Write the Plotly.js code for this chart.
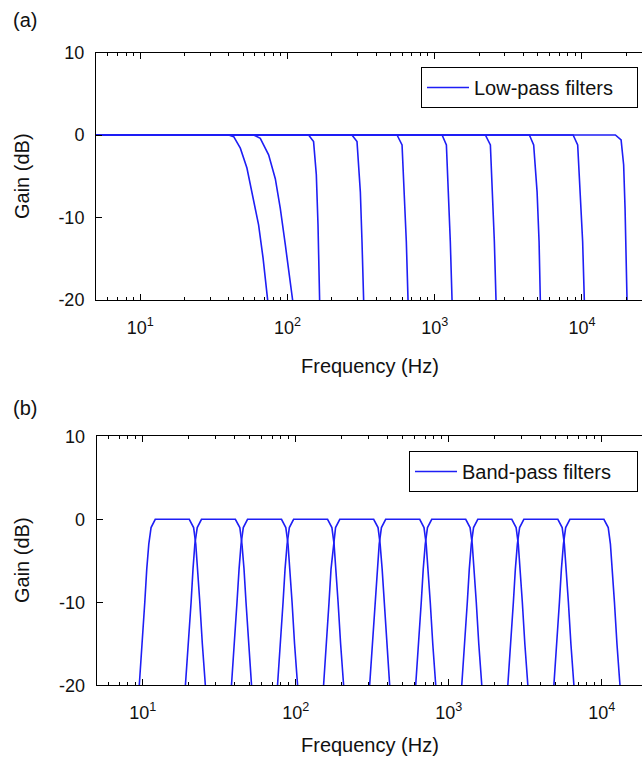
<!DOCTYPE html>
<html><head><meta charset="utf-8">
<script src="https://cdn.plot.ly/plotly-3.0.1.min.js"></script>
<style>html,body{margin:0;padding:0;background:#fff;} #chart{width:642px;height:766px;}</style>
</head><body><div id="chart"></div>
<script>
// ---------- (a) Low-pass filters: frequency (Hz) / gain (dB) ----------
const lp1Freq = [5, 39.8, 43.1, 47.8, 53.0, 57.4, 63.6, 68.2, 73.3];
const lp1Gain = [0, 0, -0.2, -1.6, -4.0, -6.9, -10.9, -14.9, -20];
const lp2Freq = [5, 58.9, 65.3, 74.4, 82.6, 89.3, 96.6, 103.3, 108.3];
const lp2Gain = [0, 0, -0.4, -2.4, -5.3, -8.9, -13.3, -16.9, -20];
const lp3Freq = [5, 139, 150.3, 156.9, 161.1, 165.2];
const lp3Gain = [0, 0, -0.8, -4.8, -10.9, -20];
const lp4Freq = [5, 274, 296.5, 312.4, 320.7, 328.9];
const lp4Gain = [0, 0, -0.8, -6.9, -13.0, -20];
const lp5Freq = [5, 554.6, 599.8, 621.3, 641.2, 658.6];
const lp5Gain = [0, 0, -1.2, -6.9, -12.9, -20];
const lp6Freq = [5, 1122, 1200, 1243, 1276, 1311];
const lp6Gain = [0, 0, -1.2, -6.9, -12.9, -20];
const lp7Freq = [5, 2208, 2388, 2474, 2541, 2608];
const lp7Gain = [0, 0, -1.2, -6.9, -12.9, -20];
const lp8Freq = [5, 4395, 4700, 4958, 5114, 5215];
const lp8Gain = [0, 0, -1.2, -6.9, -12.9, -20];
const lp9Freq = [5, 8710, 9355, 9755, 10110, 10380];
const lp9Gain = [0, 0, -1.2, -6.9, -12.9, -20];
const lp10Freq = [5, 16870, 18450, 19200, 19630, 20040, 20240];
const lp10Gain = [0, 0, -0.6, -3.6, -8.9, -14.9, -20];

// ---------- (b) Band-pass filters (octave bands) ----------
const bpGain = [-20, -15, -10, -6, -3, -1, 0, 0, -1, -3, -6, -10, -15, -20];
const bp1Freq  = [9.49, 9.94, 10.31, 10.62, 10.95, 11.33, 12.07, 20.14, 21.50, 22.21, 22.90, 23.60, 24.51, 25.65];
const bp2Freq  = [19.0, 19.9, 20.7, 21.3, 21.9, 22.7, 24.2, 40.3, 43.1, 44.5, 45.9, 47.3, 49.1, 51.4];
const bp3Freq  = [38.0, 39.8, 41.3, 42.6, 43.9, 45.4, 48.4, 80.7, 86.1, 89.0, 91.8, 94.6, 98.2, 102.8];
const bp4Freq  = [76.0, 79.6, 82.6, 85.1, 87.8, 90.8, 96.8, 161.4, 172.3, 178.0, 183.5, 189.1, 196.4, 205.5];
const bp5Freq  = [152, 159, 165, 170, 176, 182, 194, 323, 345, 356, 367, 378, 393, 411];
const bp6Freq  = [304, 318, 330, 341, 351, 363, 387, 646, 689, 712, 734, 757, 786, 822];
const bp7Freq  = [608, 637, 661, 681, 702, 726, 774, 1291, 1378, 1424, 1468, 1513, 1571, 1644];
const bp8Freq  = [1216, 1274, 1322, 1362, 1404, 1452, 1548, 2582, 2756, 2848, 2936, 3026, 3142, 3288];
const bp9Freq  = [2432, 2548, 2644, 2724, 2808, 2904, 3096, 5164, 5512, 5696, 5872, 6052, 6284, 6576];
const bp10Freq = [4864, 5096, 5288, 5448, 5616, 5808, 6192, 10328, 11024, 11392, 11744, 12104, 12568, 13152];

// ---------- ticks ----------
const xTickVals = [10, 100, 1000, 10000];
const xTickText = ['10<sup>1</sup>', '10<sup>2</sup>', '10<sup>3</sup>', '10<sup>4</sup>'];
const xMinorVals = [6, 7, 8, 9, 20, 30, 40, 50, 60, 70, 80, 90, 200, 300, 400, 500, 600, 700, 800, 900,
                    2000, 3000, 4000, 5000, 6000, 7000, 8000, 9000, 20000];
const yTickVals = [-20, -10, 0, 10];
const yTickText = ['-20', '-10', '0', '10'];

const lpSets = [[lp1Freq, lp1Gain], [lp2Freq, lp2Gain], [lp3Freq, lp3Gain], [lp4Freq, lp4Gain], [lp5Freq, lp5Gain],
                [lp6Freq, lp6Gain], [lp7Freq, lp7Gain], [lp8Freq, lp8Gain], [lp9Freq, lp9Gain], [lp10Freq, lp10Gain]];
const bpSets = [bp1Freq, bp2Freq, bp3Freq, bp4Freq, bp5Freq, bp6Freq, bp7Freq, bp8Freq, bp9Freq, bp10Freq];

const lineStyle = {color: 'rgb(30,30,245)', width: 1.6};
const traces = [];
lpSets.forEach((s, i) => traces.push({
  type: 'scatter', mode: 'lines', x: s[0], y: s[1], xaxis: 'x', yaxis: 'y',
  line: lineStyle, name: 'Low-pass filters', showlegend: i === 0, legend: 'legend', hoverinfo: 'skip'
}));
bpSets.forEach((f, i) => traces.push({
  type: 'scatter', mode: 'lines', x: f, y: bpGain, xaxis: 'x2', yaxis: 'y2',
  line: lineStyle, name: 'Band-pass filters', showlegend: i === 0, legend: 'legend2', hoverinfo: 'skip'
}));

const W = 642, H = 766;
const FONT = 'Liberation Sans, Arial, sans-serif';
const tickFont = {family: FONT, size: 18, color: '#111'};

function xAxis(range, left, anchor) {
  return {
    type: 'log', range: range, domain: [left / W, 1], anchor: anchor,
    tickmode: 'array', tickvals: xTickVals, ticktext: xTickText,
    ticks: 'inside', ticklen: 6, tickwidth: 1, tickcolor: '#000',
    minor: {tickmode: 'array', tickvals: xMinorVals, ticks: 'inside', ticklen: 3, tickcolor: '#000', showgrid: false},
    showline: true, linecolor: '#000', linewidth: 1, mirror: 'allticks',
    showgrid: false, zeroline: false, tickfont: tickFont, ticklabelstandoff: 11, fixedrange: true
  };
}
function yAxis(top, bottom, anchor) {
  return {
    range: [-20, 10], domain: [1 - bottom / H, 1 - top / H], anchor: anchor,
    tickmode: 'array', tickvals: yTickVals, ticktext: yTickText,
    ticks: 'inside', ticklen: 6, tickwidth: 1, tickcolor: '#000',
    showline: true, linecolor: '#000', linewidth: 1, mirror: false,
    showgrid: false, zeroline: false, tickfont: tickFont, ticklabelstandoff: 7, fixedrange: true
  };
}

const textFont = {family: FONT, size: 20, color: '#111'};
const legendFont = {family: FONT, size: 20, color: '#111'};
const layout = {
  width: W, height: H, margin: {l: 0, r: 0, t: 0, b: 0},
  paper_bgcolor: '#fff', plot_bgcolor: '#fff',
  xaxis: xAxis([Math.log10(5), 4.408], 96, 'y'),
  yaxis: yAxis(52.5, 300, 'x'),
  xaxis2: xAxis([Math.log10(5), 4.263], 96.7, 'y2'),
  yaxis2: yAxis(436.3, 685.3, 'x2'),
  legend: {x: 421 / W, y: 1 - 67 / H, xanchor: 'left', yanchor: 'top', bgcolor: '#fff',
           orientation: 'h', entrywidth: 158, entrywidthmode: 'pixels', itemwidth: 42,
           bordercolor: '#000', borderwidth: 1, font: legendFont},
  legend2: {x: 409 / W, y: 1 - 451 / H, xanchor: 'left', yanchor: 'top', bgcolor: '#fff',
            orientation: 'h', entrywidth: 170, entrywidthmode: 'pixels', itemwidth: 42,
            bordercolor: '#000', borderwidth: 1, font: legendFont},
  annotations: [
    {text: '(a)', xref: 'paper', yref: 'paper', x: 11 / W, y: 1 - 20 / H, xanchor: 'left', yanchor: 'middle', showarrow: false, font: textFont},
    {text: '(b)', xref: 'paper', yref: 'paper', x: 11 / W, y: 1 - 408 / H, xanchor: 'left', yanchor: 'middle', showarrow: false, font: textFont},
    {text: 'Gain (dB)', xref: 'paper', yref: 'paper', x: 22 / W, y: 1 - 176 / H, textangle: -90, xanchor: 'center', yanchor: 'middle', showarrow: false, font: textFont},
    {text: 'Gain (dB)', xref: 'paper', yref: 'paper', x: 22 / W, y: 1 - 560 / H, textangle: -90, xanchor: 'center', yanchor: 'middle', showarrow: false, font: textFont},
    {text: 'Frequency (Hz)', xref: 'paper', yref: 'paper', x: 370 / W, y: 1 - 366 / H, xanchor: 'center', yanchor: 'middle', showarrow: false, font: textFont},
    {text: 'Frequency (Hz)', xref: 'paper', yref: 'paper', x: 370 / W, y: 1 - 745 / H, xanchor: 'center', yanchor: 'middle', showarrow: false, font: textFont}
  ]
};

Plotly.newPlot('chart', traces, layout, {displayModeBar: false, staticPlot: true});
</script>
</body></html>
